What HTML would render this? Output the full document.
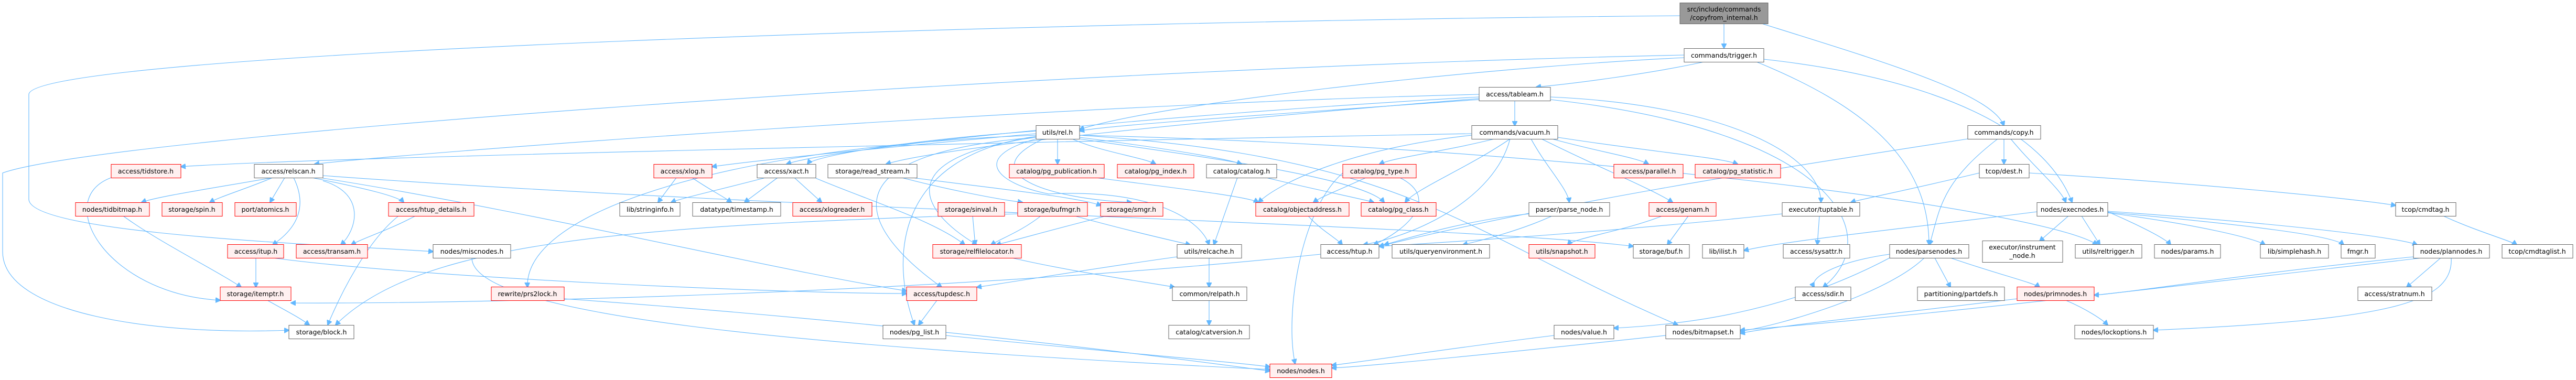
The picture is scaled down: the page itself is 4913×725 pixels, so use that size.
<!DOCTYPE html>
<html><head><meta charset="utf-8"><style>
html,body{margin:0;padding:0;background:#fff;}
svg{display:block;}
text{font-family:"DejaVu Sans","Liberation Sans",sans-serif;font-size:12.5px;fill:#000;text-anchor:middle;}
.w{fill:#fff;stroke:#666;stroke-width:1;}
.r{fill:#fff0f0;stroke:#ff0000;stroke-width:1;}
.t{fill:#999;stroke:#666;stroke-width:1;}
path{fill:none;stroke:#63b8ff;stroke-width:1.1;}
</style></head><body>
<svg width="4913" height="725" viewBox="0 0 4913 725" xmlns="http://www.w3.org/2000/svg">
<defs><marker id="a" viewBox="0 0 10 10" refX="9" refY="5" markerWidth="10" markerHeight="10" markerUnits="userSpaceOnUse" orient="auto"><path d="M0,0 L10,5 L0,10 z" style="fill:#63b8ff;stroke:#63b8ff"/></marker></defs>
<g marker-end="url(#a)">
<path d="M3288 45 L3288 92"/>
<path d="M3360 45 C3600 120, 3800 180, 3822 240"/>
<path d="M3204 30 C2000 40, 60 100, 55 180 L55 380 C55 450, 700 470, 826 480"/>
<path d="M3250 118 C3150 140, 3000 160, 2930 166"/>
<path d="M3212 110 C2800 130, 2200 200, 2059 247"/>
<path d="M3364 113 C3700 150, 3900 250, 3952 386"/>
<path d="M3350 118 C3550 200, 3679 300, 3679 467"/>
<path d="M3212 105 C2000 130, 200 260, 5 330 L5 480 C5 600, 300 640, 551 630"/>
<path d="M2889 192 L2889 240"/>
<path d="M2821 180 C2000 200, 800 290, 600 313"/>
<path d="M2807 255 C2000 270, 600 300, 345 318"/>
<path d="M2821 185 C2200 220, 1600 280, 1500 313"/>
<path d="M2821 188 C2300 230, 1800 280, 1690 313"/>
<path d="M2821 190 C2400 220, 2100 240, 2059 250"/>
<path d="M2957 185 C3300 200, 3473 300, 3473 386"/>
<path d="M2957 190 C3500 250, 3600 450, 3477 548"/>
<path d="M2017 265 L2017 313"/>
<path d="M2045 265 C2100 290, 2180 300, 2204 313"/>
<path d="M2059 262 C2200 280, 2330 300, 2368 313"/>
<path d="M1976 265 C1850 300, 1900 350, 2000 370 C2200 360, 2290 420, 2306 467"/>
<path d="M1990 265 C1850 330, 2000 380, 2158 386"/>
<path d="M1976 262 C1700 300, 1750 400, 1863 467"/>
<path d="M1976 262 C1500 300, 1700 480, 1796 548"/>
<path d="M1976 260 C1700 300, 1700 500, 1744 620"/>
<path d="M1976 258 C1400 280, 1000 400, 1006 548"/>
<path d="M1976 255 C1700 280, 1450 305, 1358 318"/>
<path d="M1976 250 C1700 270, 1550 300, 1540 313"/>
<path d="M2059 265 C2300 300, 2600 340, 2640 386"/>
<path d="M2059 258 C3000 280, 3900 400, 4000 467"/>
<path d="M2850 265 C2750 290, 2660 300, 2631 313"/>
<path d="M2880 265 C2800 320, 2700 360, 2680 386"/>
<path d="M2920 265 C2950 320, 2990 360, 2993 386"/>
<path d="M2940 265 C3050 320, 3150 360, 3190 386"/>
<path d="M2960 265 C3050 290, 3120 300, 3144 313"/>
<path d="M2971 262 C3150 290, 3280 300, 3314 313"/>
<path d="M2807 258 C2600 280, 2450 340, 2400 386"/>
<path d="M2880 265 C2850 380, 2700 450, 2600 467"/>
<path d="M2059 258 C2700 300, 2800 450, 3200 620"/>
<path d="M3170 412 C3100 440, 3000 455, 2990 467"/>
<path d="M3220 412 L3180 467"/>
<path d="M3822 265 L3822 313"/>
<path d="M3810 265 C3700 350, 3700 400, 3680 467"/>
<path d="M3835 265 C3880 320, 3930 360, 3940 386"/>
<path d="M3753 265 C3400 320, 3000 380, 2630 470"/>
<path d="M3775 330 C3650 360, 3550 380, 3530 386"/>
<path d="M3870 330 C4200 350, 4500 380, 4569 392"/>
<path d="M520 339 C400 360, 300 375, 270 386"/>
<path d="M520 339 C470 360, 420 375, 400 386"/>
<path d="M543 339 L515 386"/>
<path d="M560 339 C590 400, 560 440, 520 467"/>
<path d="M595 339 C700 360, 760 375, 770 386"/>
<path d="M616 345 C700 370, 680 440, 650 467"/>
<path d="M616 335 C1500 400, 2800 430, 3115 470"/>
<path d="M212 339 C100 380, 200 560, 420 573"/>
<path d="M235 412 C300 460, 420 520, 460 548"/>
<path d="M488 492 L488 548"/>
<path d="M510 573 C540 590, 570 605, 590 620"/>
<path d="M792 412 C740 440, 690 455, 670 467"/>
<path d="M2519 485 C1800 560, 900 580, 555 578"/>
<path d="M520 492 C800 530, 1500 560, 1729 560"/>
<path d="M1290 339 L1255 386"/>
<path d="M1320 339 C1350 360, 1380 375, 1395 386"/>
<path d="M1460 339 C1380 360, 1300 378, 1280 386"/>
<path d="M1483 339 L1420 386"/>
<path d="M1515 339 L1567 386"/>
<path d="M1556 340 C1650 380, 1780 420, 1840 467"/>
<path d="M1720 339 C1800 360, 1900 380, 1950 386"/>
<path d="M1740 339 C1900 360, 2050 375, 2100 392"/>
<path d="M1855 412 L1860 467"/>
<path d="M1985 412 C1950 440, 1910 455, 1890 467"/>
<path d="M2050 412 C2150 440, 2240 460, 2270 467"/>
<path d="M2110 412 C2000 440, 1930 460, 1900 467"/>
<path d="M1930 492 C2050 520, 2200 540, 2240 548"/>
<path d="M2306 492 L2306 548"/>
<path d="M2306 573 L2306 620"/>
<path d="M1787 573 L1752 620"/>
<path d="M2245 490 C2100 510, 1950 535, 1863 548"/>
<path d="M2360 339 L2315 467"/>
<path d="M2090 339 C2250 360, 2380 375, 2400 386"/>
<path d="M2605 339 C2560 360, 2520 375, 2505 386"/>
<path d="M2670 339 C2750 380, 2680 440, 2620 467"/>
<path d="M2495 412 C2520 440, 2550 455, 2560 467"/>
<path d="M2415 339 C2500 360, 2600 380, 2620 386"/>
<path d="M2960 412 C2900 440, 2820 460, 2790 467"/>
<path d="M2916 408 C2800 420, 2700 450, 2640 467"/>
<path d="M3470 412 L3466 467"/>
<path d="M3399 408 C3100 440, 2800 460, 2630 470"/>
<path d="M3885 404 C3600 440, 3400 460, 3326 478"/>
<path d="M3945 412 L3890 460"/>
<path d="M3970 412 L4005 467"/>
<path d="M4020 404 C4080 430, 4130 455, 4140 467"/>
<path d="M4020 406 C4200 430, 4300 455, 4320 467"/>
<path d="M4020 405 C4300 430, 4450 450, 4470 467"/>
<path d="M4020 403 C4400 430, 4580 455, 4610 467"/>
<path d="M4660 412 C4720 440, 4790 460, 4800 467"/>
<path d="M4655 492 L4590 548"/>
<path d="M4675 492 C4680 580, 4550 610, 4107 630"/>
<path d="M4603 490 C4300 520, 4050 560, 3994 563"/>
<path d="M4620 492 C4200 540, 3700 600, 3319 630"/>
<path d="M3690 492 L3720 548"/>
<path d="M3720 492 C3800 520, 3880 540, 3890 548"/>
<path d="M3604 485 C3500 500, 3450 530, 3460 548"/>
<path d="M3670 492 C3600 560, 3400 620, 3319 632"/>
<path d="M3604 492 C3400 600, 3200 620, 3078 626"/>
<path d="M3940 573 C3980 590, 4010 610, 4020 620"/>
<path d="M3847 570 C3600 600, 3400 620, 3319 636"/>
<path d="M2964 640 C2800 660, 2600 690, 2540 697"/>
<path d="M3177 640 C2900 670, 2600 700, 2540 702"/>
<path d="M1804 640 C2100 670, 2350 690, 2422 700"/>
<path d="M900 492 C900 600, 1500 660, 2422 705"/>
<path d="M2561 330 C2480 400, 2450 600, 2470 694"/>
<path d="M616 340 C1000 400, 1500 520, 1729 555"/>
<path d="M760 412 C700 460, 650 560, 625 620"/>
<path d="M1941 408 C1200 430, 800 460, 640 620"/>
<path d="M1076 570 C1500 600, 2000 650, 2422 708"/>
</g>

<!-- nodes -->
<rect class="t" x="3204" y="5.5" width="168" height="40"/><text x="3288" y="22">src/include/commands</text><text x="3288" y="38">/copyfrom_internal.h</text>
<rect class="w" x="3212" y="92.5" width="152" height="26"/><text x="3288" y="110">commands/trigger.h</text>
<rect class="w" x="2821" y="166.5" width="136" height="26"/><text x="2889" y="184">access/tableam.h</text>
<rect class="w" x="1976" y="239.5" width="83" height="26"/><text x="2017" y="257">utils/rel.h</text>
<rect class="w" x="2807" y="239.5" width="164" height="26"/><text x="2889" y="257">commands/vacuum.h</text>
<rect class="w" x="3753" y="239.5" width="139" height="26"/><text x="3822" y="257">commands/copy.h</text>

<rect class="r" x="212" y="313.5" width="133" height="26"/><text x="278" y="331">access/tidstore.h</text>
<rect class="w" x="485" y="313.5" width="131" height="26"/><text x="550" y="331">access/relscan.h</text>
<rect class="r" x="1247" y="313.5" width="111" height="26"/><text x="1302" y="331">access/xlog.h</text>
<rect class="w" x="1444" y="313.5" width="112" height="26"/><text x="1500" y="331">access/xact.h</text>
<rect class="w" x="1579" y="313.5" width="170" height="26"/><text x="1664" y="331">storage/read_stream.h</text>
<rect class="r" x="1925" y="313.5" width="181" height="26"/><text x="2015" y="331">catalog/pg_publication.h</text>
<rect class="r" x="2131" y="313.5" width="146" height="26"/><text x="2204" y="331">catalog/pg_index.h</text>
<rect class="w" x="2301" y="313.5" width="134" height="26"/><text x="2368" y="331">catalog/catalog.h</text>
<rect class="r" x="2561" y="313.5" width="140" height="26"/><text x="2631" y="331">catalog/pg_type.h</text>
<rect class="r" x="3078" y="313.5" width="132" height="26"/><text x="3144" y="331">access/parallel.h</text>
<rect class="r" x="3233" y="313.5" width="163" height="26"/><text x="3314" y="331">catalog/pg_statistic.h</text>
<rect class="w" x="3775" y="313.5" width="95" height="26"/><text x="3822" y="331">tcop/dest.h</text>

<rect class="r" x="144" y="386.5" width="141" height="26"/><text x="214" y="404">nodes/tidbitmap.h</text>
<rect class="r" x="309" y="386.5" width="115" height="26"/><text x="366" y="404">storage/spin.h</text>
<rect class="r" x="448" y="386.5" width="117" height="26"/><text x="506" y="404">port/atomics.h</text>
<rect class="r" x="741" y="386.5" width="163" height="26"/><text x="822" y="404">access/htup_details.h</text>
<rect class="w" x="1182" y="386.5" width="115" height="26"/><text x="1240" y="404">lib/stringinfo.h</text>
<rect class="w" x="1321" y="386.5" width="168" height="26"/><text x="1405" y="404">datatype/timestamp.h</text>
<rect class="r" x="1512" y="386.5" width="151" height="26"/><text x="1587" y="404">access/xlogreader.h</text>
<rect class="r" x="1789" y="386.5" width="127" height="26"/><text x="1852" y="404">storage/sinval.h</text>
<rect class="r" x="1941" y="386.5" width="133" height="26"/><text x="2007" y="404">storage/bufmgr.h</text>
<rect class="r" x="2099" y="386.5" width="119" height="26"/><text x="2158" y="404">storage/smgr.h</text>
<rect class="r" x="2395" y="386.5" width="178" height="26"/><text x="2484" y="404">catalog/objectaddress.h</text>
<rect class="r" x="2596" y="386.5" width="143" height="26"/><text x="2667" y="404">catalog/pg_class.h</text>
<rect class="w" x="2916" y="386.5" width="154" height="26"/><text x="2993" y="404">parser/parse_node.h</text>
<rect class="r" x="3145" y="386.5" width="128" height="26"/><text x="3209" y="404">access/genam.h</text>
<rect class="w" x="3399" y="386.5" width="148" height="26"/><text x="3473" y="404">executor/tuptable.h</text>
<rect class="w" x="3885" y="386.5" width="135" height="26"/><text x="3952" y="404">nodes/execnodes.h</text>
<rect class="w" x="4569" y="386.5" width="115" height="26"/><text x="4626" y="404">tcop/cmdtag.h</text>

<rect class="r" x="434" y="466.5" width="107" height="26"/><text x="488" y="484">access/itup.h</text>
<rect class="r" x="565" y="466.5" width="136" height="26"/><text x="633" y="484">access/transam.h</text>
<rect class="w" x="826" y="466.5" width="148" height="26"/><text x="900" y="484">nodes/miscnodes.h</text>
<rect class="r" x="1779" y="466.5" width="169" height="26"/><text x="1863" y="484">storage/relfilelocator.h</text>
<rect class="w" x="2245" y="466.5" width="123" height="26"/><text x="2306" y="484">utils/relcache.h</text>
<rect class="w" x="2519" y="466.5" width="111" height="26"/><text x="2574" y="484">access/htup.h</text>
<rect class="w" x="2655" y="466.5" width="186" height="26"/><text x="2748" y="484">utils/queryenvironment.h</text>
<rect class="r" x="2916" y="466.5" width="126" height="26"/><text x="2979" y="484">utils/snapshot.h</text>
<rect class="w" x="3115" y="466.5" width="107" height="26"/><text x="3168" y="484">storage/buf.h</text>
<rect class="w" x="3247" y="466.5" width="79" height="26"/><text x="3286" y="484">lib/ilist.h</text>
<rect class="w" x="3401" y="466.5" width="127" height="26"/><text x="3464" y="484">access/sysattr.h</text>
<rect class="w" x="3604" y="466.5" width="151" height="26"/><text x="3679" y="484">nodes/parsenodes.h</text>
<rect class="w" x="3781" y="459.5" width="153" height="41"/><text x="3857" y="476">executor/instrument</text><text x="3857" y="492">_node.h</text>
<rect class="w" x="3958" y="466.5" width="127" height="26"/><text x="4021" y="484">utils/reltrigger.h</text>
<rect class="w" x="4109" y="466.5" width="126" height="26"/><text x="4172" y="484">nodes/params.h</text>
<rect class="w" x="4311" y="466.5" width="130" height="26"/><text x="4376" y="484">lib/simplehash.h</text>
<rect class="w" x="4465" y="466.5" width="65" height="26"/><text x="4497" y="484">fmgr.h</text>
<rect class="w" x="4603" y="466.5" width="145" height="26"/><text x="4675" y="484">nodes/plannodes.h</text>
<rect class="w" x="4772" y="466.5" width="135" height="26"/><text x="4839" y="484">tcop/cmdtaglist.h</text>

<rect class="r" x="420" y="547.5" width="135" height="26"/><text x="487" y="565">storage/itemptr.h</text>
<rect class="r" x="937" y="547.5" width="139" height="26"/><text x="1006" y="565">rewrite/prs2lock.h</text>
<rect class="r" x="1729" y="547.5" width="134" height="26"/><text x="1796" y="565">access/tupdesc.h</text>
<rect class="w" x="2236" y="547.5" width="142" height="26"/><text x="2307" y="565">common/relpath.h</text>
<rect class="w" x="3424" y="547.5" width="106" height="26"/><text x="3477" y="565">access/sdir.h</text>
<rect class="w" x="3657" y="547.5" width="166" height="26"/><text x="3740" y="565">partitioning/partdefs.h</text>
<rect class="r" x="3847" y="547.5" width="147" height="26"/><text x="3920" y="565">nodes/primnodes.h</text>
<rect class="w" x="4497" y="547.5" width="141" height="26"/><text x="4567" y="565">access/stratnum.h</text>

<rect class="w" x="551" y="620.5" width="124" height="26"/><text x="613" y="638">storage/block.h</text>
<rect class="w" x="1684" y="620.5" width="120" height="26"/><text x="1744" y="638">nodes/pg_list.h</text>
<rect class="w" x="2229" y="620.5" width="154" height="26"/><text x="2306" y="638">catalog/catversion.h</text>
<rect class="w" x="2964" y="620.5" width="114" height="26"/><text x="3021" y="638">nodes/value.h</text>
<rect class="w" x="3177" y="620.5" width="142" height="26"/><text x="3248" y="638">nodes/bitmapset.h</text>
<rect class="w" x="3957" y="620.5" width="150" height="26"/><text x="4032" y="638">nodes/lockoptions.h</text>

<rect class="r" x="2422" y="694.5" width="118" height="26"/><text x="2481" y="712">nodes/nodes.h</text>
</svg>
</body></html>
